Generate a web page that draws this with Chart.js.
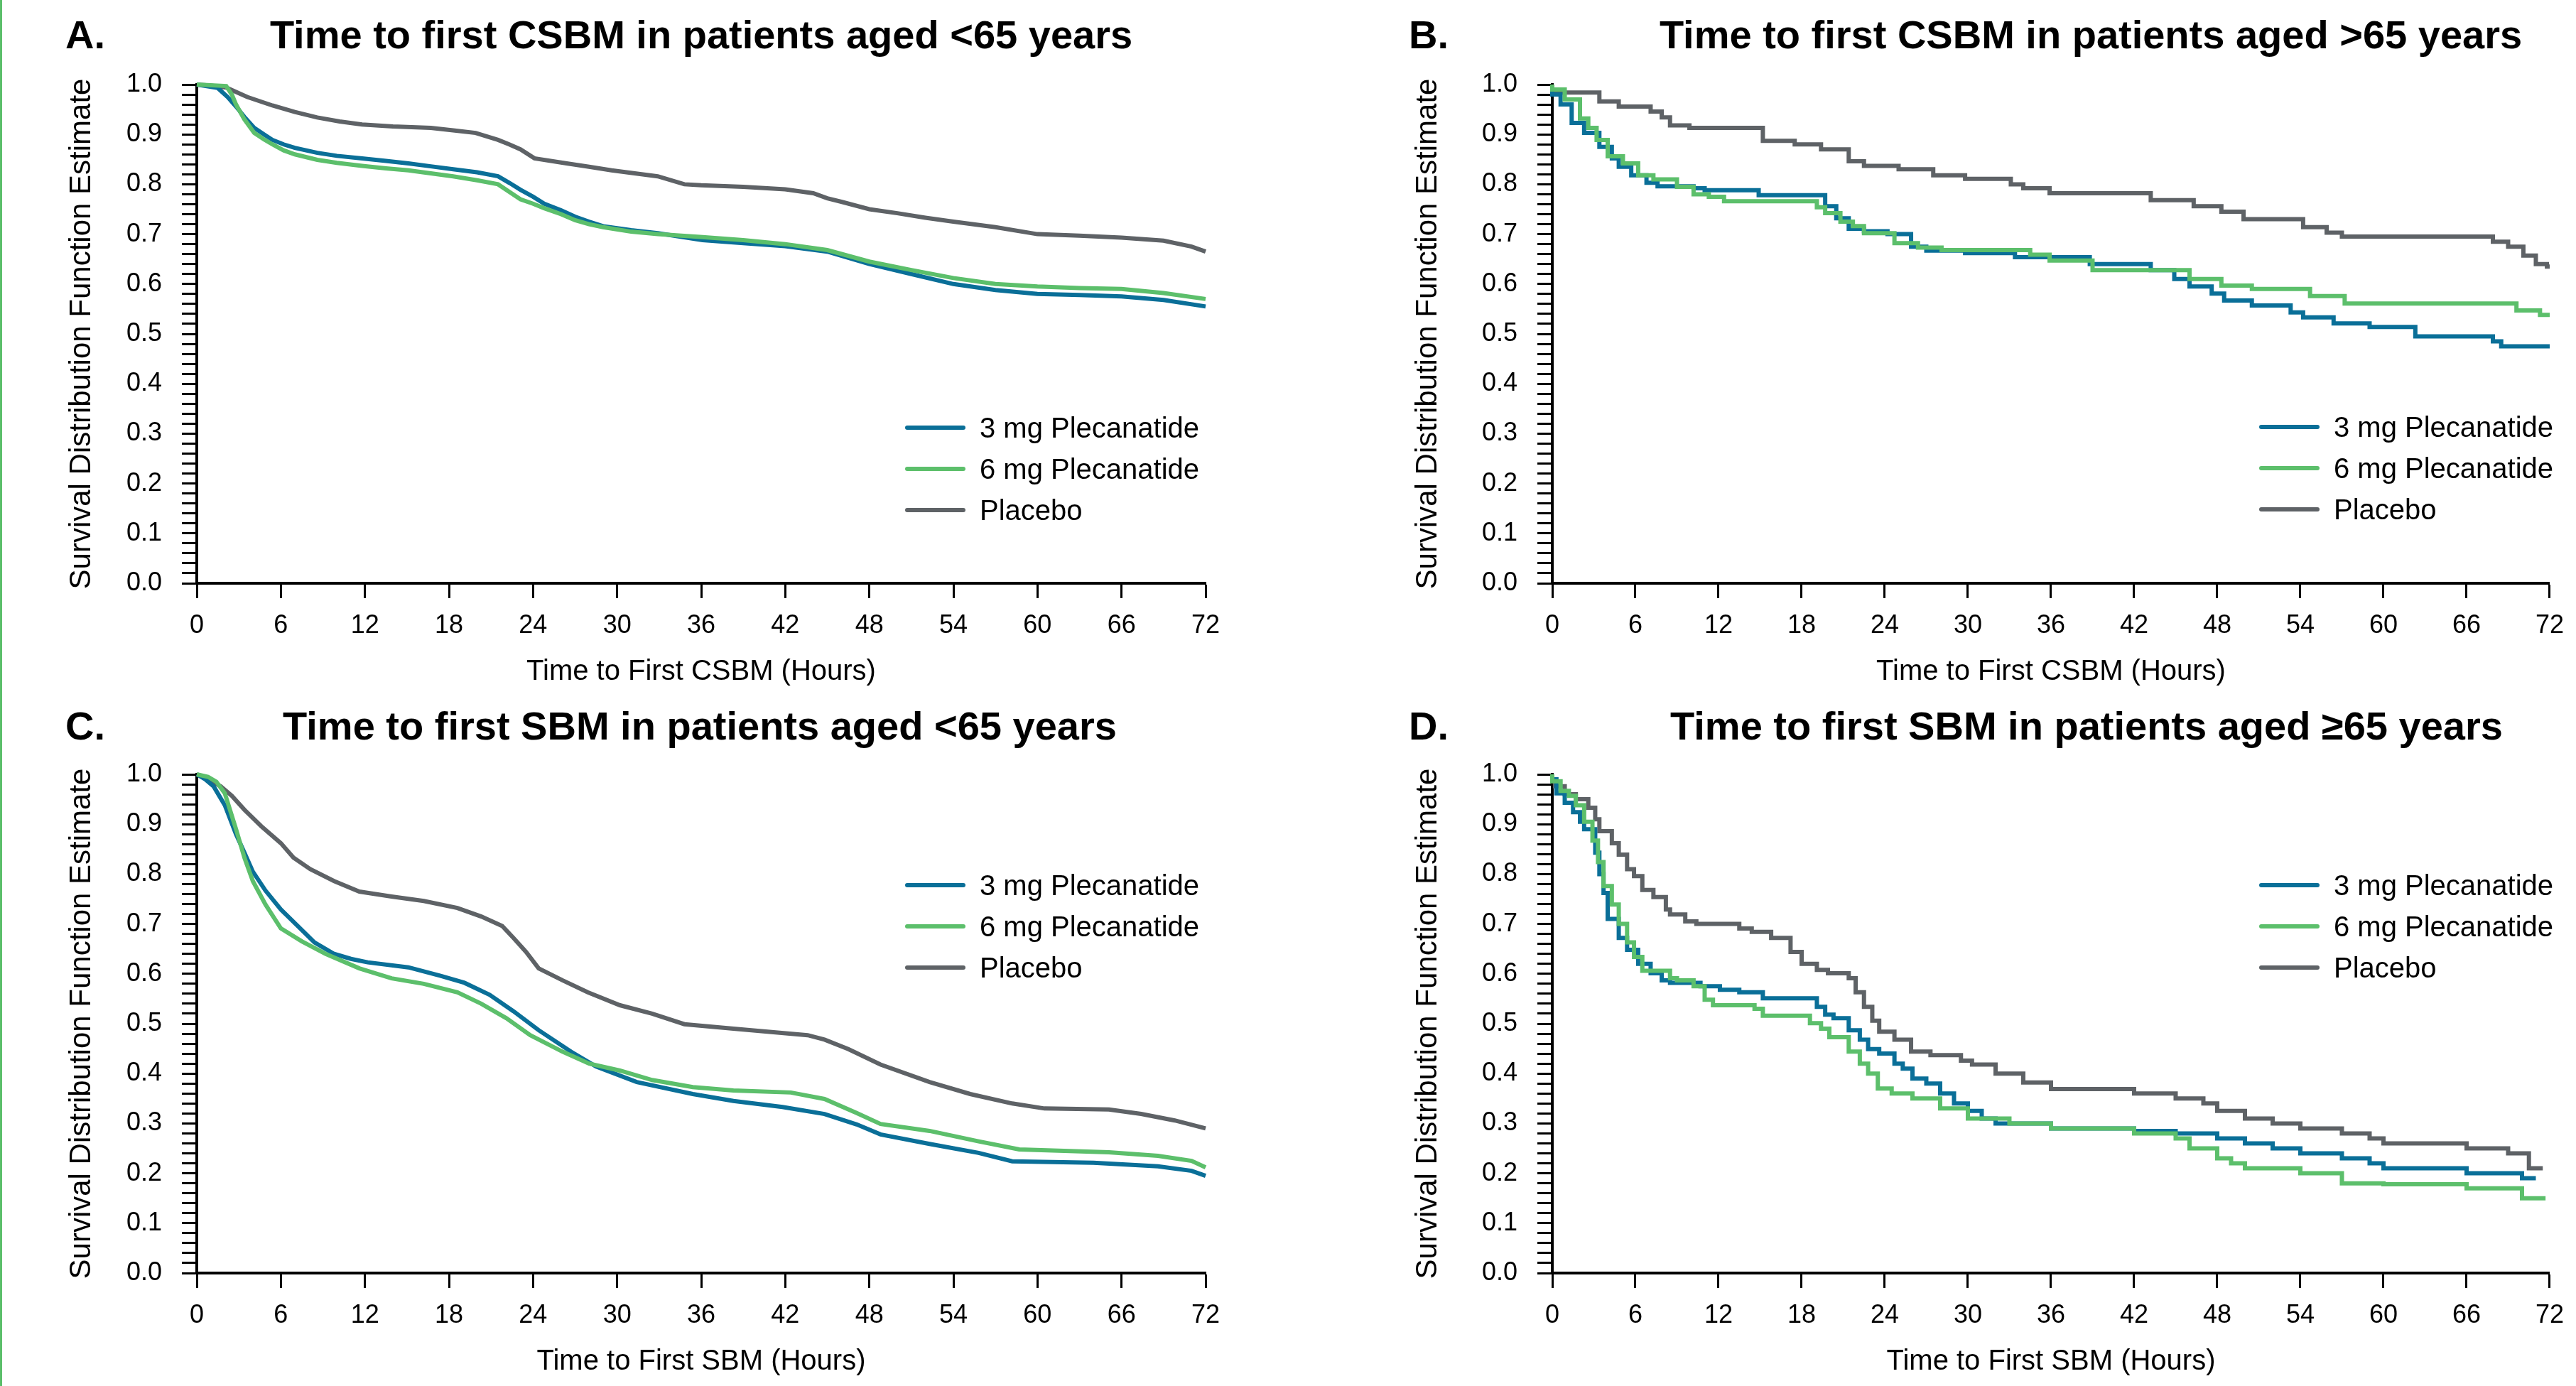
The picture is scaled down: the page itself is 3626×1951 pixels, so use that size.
<!DOCTYPE html>
<html>
<head>
<meta charset="utf-8">
<script src="https://cdn.jsdelivr.net/npm/chart.js@4.4.1/dist/chart.umd.min.js"></script>
<style>
  html, body { margin: 0; padding: 0; background: #fff; }
  body { width: 3626px; height: 1951px; position: relative; overflow: hidden; }
  .panel { position: absolute; }
  #edge { position: absolute; left: 0; top: 0; width: 3px; height: 1951px; background: #5cbf6b; }
</style>
</head>
<body>
<div id="edge"></div>
<div class="panel" style="left:0px;top:0px;width:1810px;height:975px"><canvas id="chartA"></canvas></div>
<div class="panel" style="left:1810px;top:0px;width:1816px;height:975px"><canvas id="chartB"></canvas></div>
<div class="panel" style="left:0px;top:975px;width:1810px;height:976px"><canvas id="chartC"></canvas></div>
<div class="panel" style="left:1810px;top:975px;width:1816px;height:976px"><canvas id="chartD"></canvas></div>
<script>
const seriesLabels = ["3 mg Plecanatide", "6 mg Plecanatide", "Placebo"];
const seriesColors = ["#0a6f98", "#5cbf6b", "#5e6266"];
const xTicks = [0, 6, 12, 18, 24, 30, 36, 42, 48, 54, 60, 66, 72];
const yTickLabels = ["0.0", "0.1", "0.2", "0.3", "0.4", "0.5", "0.6", "0.7", "0.8", "0.9", "1.0"];
const yAxisTitle = "Survival Distribution Function Estimate";

// A. CSBM, <65 years
const aHours3 = [0, 1.5, 2.2, 2.8, 3.4, 4.1, 4.8, 5.4, 6.2, 7.0, 8.6, 10, 11.8, 13.5, 15.1, 16.7, 18.3, 20, 21.5, 22.3, 23.1, 24, 24.8, 26, 27, 28, 29, 31, 32.9, 36.1, 39, 42, 45, 48, 51, 54, 57, 60, 63, 66, 69, 72];
const aSurv3 = [1.0, 0.993, 0.975, 0.956, 0.935, 0.913, 0.9, 0.889, 0.88, 0.873, 0.863, 0.857, 0.852, 0.847, 0.842, 0.836, 0.83, 0.824, 0.816, 0.803, 0.789, 0.775, 0.761, 0.748, 0.735, 0.725, 0.716, 0.708, 0.702, 0.688, 0.682, 0.676, 0.665, 0.64, 0.62, 0.60, 0.588, 0.58, 0.578, 0.575, 0.568, 0.555];
const aHours6 = [0, 2.1, 2.5, 2.8, 3.4, 4.1, 4.8, 5.4, 6.2, 7.0, 8.6, 10, 11.8, 13.5, 15.1, 16.7, 18.3, 20, 21.5, 22.3, 23.1, 24, 24.8, 26, 27, 28, 29, 31, 32.9, 36.1, 39, 42, 45, 48, 51, 54, 57, 60, 63, 66, 69, 72];
const aSurv6 = [1.0, 0.997, 0.98, 0.96, 0.93, 0.903, 0.89, 0.88, 0.868, 0.86, 0.849, 0.843, 0.837, 0.832, 0.828, 0.822, 0.816, 0.808, 0.80, 0.785, 0.77, 0.761, 0.752, 0.74, 0.728, 0.72, 0.714, 0.705, 0.70, 0.694, 0.688, 0.68, 0.668, 0.645, 0.628, 0.612, 0.60, 0.595, 0.592, 0.59, 0.582, 0.57];
const aHoursP = [0, 1, 2.1, 3.6, 5.4, 7, 8.6, 10.2, 11.8, 14, 16.7, 18.3, 19.9, 21.5, 22.3, 23.1, 24.1, 26.4, 28, 29.6, 32.9, 34.8, 36, 39, 42, 44, 45, 46, 48, 50, 52, 54, 57, 60, 63, 66, 69, 71, 72];
const aSurvP = [1.0, 0.998, 0.994, 0.975, 0.958, 0.945, 0.934, 0.926, 0.92, 0.916, 0.913, 0.908, 0.903, 0.889, 0.88, 0.87, 0.852, 0.842, 0.835, 0.828, 0.816, 0.80, 0.798, 0.795, 0.79, 0.782, 0.772, 0.765, 0.75, 0.742, 0.733, 0.725, 0.714, 0.70, 0.697, 0.693, 0.687, 0.675, 0.665];

// B. CSBM, >65 years
const bHours3 = [0, 0.6, 1.4, 2.3, 3.4, 4.3, 4.8, 5.7, 6.8, 7.6, 10.2, 11, 14.9, 19.7, 20.5, 21.4, 22.5, 24.2, 25.9, 27, 29.8, 33.4, 38.8, 43.2, 44.9, 46, 47.6, 48.5, 50.5, 53.3, 54.2, 56.4, 59, 62.3, 67.9, 68.5, 72];
const bSurv3 = [1.0, 0.98, 0.96, 0.923, 0.903, 0.875, 0.852, 0.835, 0.818, 0.803, 0.796, 0.792, 0.788, 0.778, 0.756, 0.732, 0.711, 0.706, 0.70, 0.675, 0.667, 0.662, 0.654, 0.64, 0.628, 0.61, 0.595, 0.581, 0.567, 0.557, 0.543, 0.533, 0.521, 0.514, 0.495, 0.485, 0.475];
const bHours6 = [0, 0.9, 2.0, 2.6, 3.2, 4.0, 5.1, 6.2, 7.3, 9.0, 10.2, 11.3, 12.4, 19.1, 19.7, 20.8, 21.7, 22.5, 24.7, 26.4, 28.1, 34.5, 35.9, 39, 46, 48.3, 50.5, 54.7, 57.2, 69.6, 71.3, 72];
const bSurv6 = [1.0, 0.99, 0.97, 0.932, 0.913, 0.889, 0.856, 0.842, 0.818, 0.81, 0.795, 0.78, 0.775, 0.766, 0.754, 0.742, 0.725, 0.716, 0.702, 0.682, 0.673, 0.668, 0.659, 0.647, 0.628, 0.61, 0.597, 0.59, 0.576, 0.561, 0.547, 0.538];
const bHoursP = [0, 3.4, 4.8, 7.1, 7.9, 8.5, 9.9, 15.2, 17.5, 19.4, 21.4, 22.5, 25, 27.5, 29.8, 33.1, 34, 35.9, 43.2, 46.3, 48.3, 49.9, 54.2, 55.9, 57, 67.9, 69, 70.1, 71, 71.8, 72];
const bSurvP = [1.0, 0.984, 0.966, 0.956, 0.946, 0.934, 0.918, 0.913, 0.887, 0.88, 0.87, 0.846, 0.837, 0.83, 0.818, 0.811, 0.80, 0.792, 0.782, 0.768, 0.756, 0.745, 0.73, 0.714, 0.703, 0.695, 0.685, 0.675, 0.657, 0.64, 0.635];

// C. SBM, <65 years
const cHours3 = [0, 0.6, 1.2, 2.0, 2.8, 3.4, 4.0, 4.9, 6.0, 7.2, 8.4, 9.8, 11, 12.2, 15.1, 17.4, 19.1, 20.9, 22.6, 24.4, 26.7, 28.5, 31.4, 35.4, 38.3, 41.8, 44.8, 47.1, 48.8, 52.3, 55.8, 58.2, 64, 68.6, 71, 72];
const cSurv3 = [1.0, 0.99, 0.976, 0.938, 0.88, 0.843, 0.805, 0.767, 0.729, 0.696, 0.663, 0.64, 0.63, 0.623, 0.613, 0.596, 0.582, 0.558, 0.525, 0.487, 0.444, 0.414, 0.383, 0.359, 0.345, 0.333, 0.319, 0.298, 0.278, 0.259, 0.241, 0.224, 0.221, 0.214, 0.205, 0.195];
const cHours6 = [0, 0.8, 1.4, 2.0, 2.8, 3.4, 4.0, 4.9, 6.0, 7.5, 9.2, 11.6, 13.9, 16.2, 18.6, 20.3, 22.1, 23.8, 26.1, 28, 30.2, 32.5, 35.4, 38.3, 42.4, 44.8, 47.1, 48.8, 52.3, 55.8, 58.7, 65.1, 68.6, 71, 72];
const cSurv6 = [1.0, 0.995, 0.985, 0.962, 0.89, 0.833, 0.786, 0.739, 0.691, 0.665, 0.64, 0.611, 0.591, 0.58, 0.563, 0.54, 0.511, 0.477, 0.444, 0.42, 0.406, 0.387, 0.373, 0.366, 0.362, 0.349, 0.321, 0.299, 0.285, 0.264, 0.248, 0.242, 0.235, 0.225, 0.212];
const cHoursP = [0, 0.5, 1.7, 2.5, 3.4, 4.6, 6.0, 6.9, 8.1, 9.8, 11.6, 13.9, 16.2, 18.6, 20.3, 21.8, 22.6, 23.5, 24.4, 26.1, 27.9, 30.2, 32.5, 34.8, 38.3, 43.6, 44.8, 46.5, 48.8, 52.3, 55.2, 58.2, 60.5, 65.1, 67.4, 69.8, 72];
const cSurvP = [1.0, 0.995, 0.976, 0.957, 0.929, 0.896, 0.862, 0.833, 0.81, 0.786, 0.765, 0.755, 0.746, 0.732, 0.715, 0.696, 0.672, 0.644, 0.611, 0.587, 0.563, 0.537, 0.52, 0.499, 0.49, 0.477, 0.468, 0.449, 0.418, 0.383, 0.359, 0.34, 0.33, 0.328, 0.319, 0.306, 0.29];

// D. SBM, >=65 years
const dHours3 = [0, 0.3, 0.9, 1.5, 2.0, 2.3, 3.1, 3.4, 3.7, 4.0, 4.8, 5.4, 6.2, 7.1, 7.9, 8.5, 10.7, 12.1, 13.5, 15.2, 19.1, 19.7, 20.3, 21.4, 22.2, 22.8, 23.6, 24.7, 25.3, 26, 27, 28, 29, 30, 31, 32, 36, 42, 45, 48, 50, 52, 54, 57, 59, 60, 66, 70, 71];
const dSurv3 = [1.0, 0.99, 0.962, 0.943, 0.924, 0.905, 0.89, 0.843, 0.80, 0.762, 0.71, 0.672, 0.648, 0.62, 0.601, 0.587, 0.582, 0.575, 0.568, 0.563, 0.551, 0.534, 0.518, 0.511, 0.487, 0.468, 0.449, 0.44, 0.42, 0.41, 0.39, 0.38, 0.36, 0.34, 0.325, 0.31, 0.30, 0.29, 0.285, 0.28, 0.27, 0.26, 0.25, 0.24, 0.23, 0.22, 0.21, 0.20, 0.19];
const dHours6 = [0, 0.6, 1.2, 1.7, 2.3, 2.9, 3.3, 3.7, 4.3, 4.8, 5.4, 5.9, 6.5, 8.5, 9.0, 10.2, 11.0, 11.6, 14.6, 15.2, 18.6, 19.4, 20.0, 21.4, 22.2, 22.8, 23.5, 24.5, 26, 28, 30, 33, 36, 42, 45, 46, 48, 49, 50, 54, 57, 60, 66, 70, 71.7];
const dSurv6 = [1.0, 0.986, 0.967, 0.957, 0.938, 0.905, 0.867, 0.824, 0.776, 0.739, 0.70, 0.663, 0.634, 0.606, 0.591, 0.587, 0.575, 0.548, 0.537, 0.53, 0.516, 0.501, 0.49, 0.473, 0.444, 0.42, 0.40, 0.37, 0.36, 0.35, 0.33, 0.31, 0.30, 0.29, 0.28, 0.27, 0.25, 0.23, 0.22, 0.21, 0.20, 0.18, 0.178, 0.17, 0.15];
const dHoursP = [0, 0.2, 0.9, 1.7, 2.6, 3.1, 3.4, 4.3, 4.8, 5.4, 5.9, 6.5, 7.3, 8.2, 8.5, 9.6, 10.4, 13.5, 14.4, 15.8, 17.2, 18.0, 19.1, 19.9, 21.4, 21.9, 22.5, 23.1, 23.6, 24.7, 25.9, 27.3, 29.5, 30.3, 32, 34, 36, 42, 45, 47, 48, 50, 52, 54, 57, 59, 60, 66, 69, 70.5, 71.5];
const dSurvP = [1.0, 0.99, 0.976, 0.96, 0.95, 0.933, 0.91, 0.886, 0.862, 0.839, 0.81, 0.796, 0.768, 0.754, 0.729, 0.719, 0.705, 0.70, 0.691, 0.684, 0.672, 0.644, 0.62, 0.608, 0.601, 0.591, 0.563, 0.534, 0.506, 0.484, 0.468, 0.444, 0.437, 0.426, 0.418, 0.40, 0.382, 0.369, 0.36, 0.35, 0.34, 0.325, 0.31, 0.30, 0.29, 0.28, 0.27, 0.26, 0.25, 0.24, 0.21];

Chart.defaults.font.family = '"Liberation Sans", Arial, Helvetica, sans-serif';
Chart.defaults.color = "#000";

// fixed tick positions for the y axis: minor every 0.02, labels every 0.1
const yTickValues = Array.from({ length: 51 }, (_, i) => i / 50);

// panel letter, title and legend
const panelDecor = {
  id: "panelDecor",
  afterDraw(chart, args, opts) {
    const ctx = chart.ctx;
    ctx.save();
    ctx.fillStyle = "#000";
    ctx.textBaseline = "alphabetic";
    ctx.font = 'bold 56px "Liberation Sans", Arial, sans-serif';
    ctx.textAlign = "left";
    ctx.fillText(opts.letter, opts.letterX, opts.titleY);
    ctx.textAlign = "center";
    ctx.fillText(opts.title, opts.titleX, opts.titleY);

    ctx.font = '40px "Liberation Sans", Arial, sans-serif';
    ctx.textAlign = "left";
    seriesLabels.forEach((label, i) => {
      const y = opts.legendY + i * 58;
      ctx.strokeStyle = seriesColors[i];
      ctx.lineWidth = 6;
      ctx.lineCap = "round";
      ctx.beginPath();
      ctx.moveTo(opts.legendX + 3, y);
      ctx.lineTo(opts.legendX + 82, y);
      ctx.stroke();
      ctx.fillText(label, opts.legendX + 105, y + 14);
    });
    ctx.restore();
  }
};

function toPoints(hours, surv) {
  return hours.map((h, i) => ({ x: h, y: surv[i] }));
}

function makePanel(canvasId, p) {
  const drawOrder = [2, 1, 3];
  const datasets = p.series.map((s, i) => ({
    label: seriesLabels[i],
    data: toPoints(s[0], s[1]),
    borderColor: seriesColors[i],
    backgroundColor: seriesColors[i],
    borderWidth: 6,
    pointRadius: 0,
    tension: 0,
    stepped: p.stepped,
    clip: false,
    order: drawOrder[i]
  }));

  const padLeft = p.yTitleX - 25;

  return new Chart(document.getElementById(canvasId), {
    type: "line",
    data: { datasets },
    options: {
      responsive: true,
      maintainAspectRatio: false,
      animation: false,
      devicePixelRatio: 1,
      layout: { padding: { left: padLeft, right: p.width - p.plotRight, top: p.plotTop, bottom: 0 } },
      plugins: {
        legend: { display: false },
        tooltip: { enabled: false },
        panelDecor: {
          letter: p.letter, letterX: p.letterX, title: p.title, titleX: p.titleX, titleY: p.titleY,
          legendX: p.legendX, legendY: p.legendY
        }
      },
      scales: {
        x: {
          type: "linear",
          min: 0,
          max: 72,
          afterFit(scale) { scale.height = p.height - p.plotBottom; },
          afterBuildTicks(scale) { scale.ticks = xTicks.map(v => ({ value: v })); },
          ticks: { font: { size: 36 }, color: "#000", padding: 17, autoSkip: false, maxRotation: 0, callback: v => String(v) },
          grid: { display: true, drawOnChartArea: false, drawTicks: true, tickLength: 21, tickWidth: 3, color: "#000" },
          border: { display: true, color: "#000", width: 4 },
          title: { display: true, text: p.xTitle, font: { size: 40 }, color: "#000", padding: { top: 0, bottom: p.height - p.xTitleY - 24 } }
        },
        y: {
          min: 0,
          max: 1,
          afterFit(scale) { scale.width = p.plotLeft - padLeft; },
          afterBuildTicks(scale) { scale.ticks = yTickValues.map(v => ({ value: v })); },
          ticks: {
            font: { size: 36 }, color: "#000", padding: 28, autoSkip: false,
            callback: (v, i) => (i % 5 === 0 ? yTickLabels[i / 5] : "")
          },
          grid: { display: true, drawOnChartArea: false, drawTicks: true, tickLength: 21, tickWidth: 3, color: "#000" },
          border: { display: true, color: "#000", width: 4 },
          title: { display: true, text: yAxisTitle, font: { size: 42 }, color: "#000", padding: { top: 0, bottom: 0 } }
        }
      }
    },
    plugins: [panelDecor]
  });
}

makePanel("chartA", {
  width: 1810, height: 975, plotLeft: 277, plotRight: 1697, plotTop: 119, plotBottom: 821,
  yTitleX: 115, xTitleY: 946, stepped: false,
  letter: "A.", letterX: 92, title: "Time to first CSBM in patients aged <65 years", titleX: 987, titleY: 68,
  xTitle: "Time to First CSBM (Hours)", legendX: 1274, legendY: 602,
  series: [[aHours3, aSurv3], [aHours6, aSurv6], [aHoursP, aSurvP]]
});

makePanel("chartB", {
  width: 1816, height: 975, plotLeft: 375, plotRight: 1788, plotTop: 119, plotBottom: 821,
  yTitleX: 200, xTitleY: 946, stepped: "after",
  letter: "B.", letterX: 173, title: "Time to first CSBM in patients aged >65 years", titleX: 1133, titleY: 68,
  xTitle: "Time to First CSBM (Hours)", legendX: 1370, legendY: 601,
  series: [[bHours3, bSurv3], [bHours6, bSurv6], [bHoursP, bSurvP]]
});

makePanel("chartC", {
  width: 1810, height: 976, plotLeft: 277, plotRight: 1697, plotTop: 115, plotBottom: 817,
  yTitleX: 115, xTitleY: 942, stepped: false,
  letter: "C.", letterX: 92, title: "Time to first SBM in patients aged <65 years", titleX: 985, titleY: 66,
  xTitle: "Time to First SBM (Hours)", legendX: 1274, legendY: 271,
  series: [[cHours3, cSurv3], [cHours6, cSurv6], [cHoursP, cSurvP]]
});

makePanel("chartD", {
  width: 1816, height: 976, plotLeft: 375, plotRight: 1788, plotTop: 115, plotBottom: 817,
  yTitleX: 200, xTitleY: 942, stepped: "after",
  letter: "D.", letterX: 173, title: "Time to first SBM in patients aged \u226565 years", titleX: 1127, titleY: 66,
  xTitle: "Time to First SBM (Hours)", legendX: 1370, legendY: 271,
  series: [[dHours3, dSurv3], [dHours6, dSurv6], [dHoursP, dSurvP]]
});
</script>
</body>
</html>
